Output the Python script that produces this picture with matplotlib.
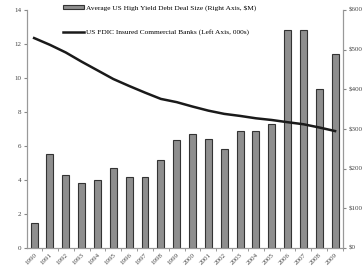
import matplotlib
matplotlib.use("Agg")
import matplotlib.pyplot as plt
import numpy as np
from matplotlib.patches import Patch
from matplotlib.lines import Line2D

years = [str(y) for y in range(1990, 2010)]
deal_size = [64, 238, 184, 165, 171, 201, 178, 178, 221, 272,
             287, 276, 249, 294, 296, 313, 549, 549, 402, 490]
banks = [12.35, 11.95, 11.5, 10.96, 10.45, 9.94, 9.53, 9.14, 8.77, 8.58,
         8.32, 8.08, 7.89, 7.77, 7.63, 7.53, 7.40, 7.28, 7.09, 6.88]
left_ticks = [0, 2, 4, 6, 8, 10, 12, 14]
right_ticks = [0, 100, 200, 300, 400, 500, 600]
right_labels = ["$0", "$100", "$200", "$300", "$400", "$500", "$600"]

plt.rcParams['font.family'] = ['Liberation Serif', 'DejaVu Serif']

W, H = 363, 272
fig = plt.figure(figsize=(W/100, H/100), dpi=100)
ax = fig.add_axes([27/W, 1 - 248/H, (343-27)/W, (248-10)/H])
ax2 = ax.twinx()

x = np.arange(len(years))
ax2.bar(x, deal_size, width=0.44, color='#8e8e8e', edgecolor='#333333', linewidth=0.8, zorder=2)
ax.plot(x, banks, color='#1a1a1a', linewidth=1.8, zorder=5)
ax.set_zorder(ax2.get_zorder() + 1)
ax.patch.set_visible(False)

ax.set_xlim(-0.45, 19.5)
ax.set_ylim(0, 14)
ax2.set_ylim(0, 600)
ax.set_yticks(left_ticks)
ax.set_yticklabels([str(t) for t in left_ticks])
ax2.set_yticks(right_ticks)
ax2.set_yticklabels(right_labels)

ax.set_xticks(x)
ax.set_xticklabels(years, rotation=45, ha='right', rotation_mode='anchor')
ax.set_xticks(x + 0.5, minor=True)
ax.tick_params(axis='x', which='major', length=0, labelsize=5, colors='#444444', pad=3)
ax.tick_params(axis='x', which='minor', length=2, color='#888888')
ax.tick_params(axis='y', labelsize=5, colors='#444444', length=2, color='#888888', pad=2)
ax2.tick_params(axis='y', labelsize=5, colors='#444444', length=2, color='#888888', pad=2)

for a in (ax, ax2):
    a.spines['top'].set_visible(False)
    for s in ('left', 'right', 'bottom'):
        a.spines[s].set_color('#999999')
        a.spines[s].set_linewidth(0.8)

handles = [Patch(facecolor='#8e8e8e', edgecolor='#333333', linewidth=0.8),
           Line2D([0], [0], color='#1a1a1a', linewidth=1.8)]
labels = ["Average US High Yield Debt Deal Size (Right Axis, $M)",
          "US FDIC Insured Commercial Banks (Left Axis, 000s)"]
fig.legend(handles, labels, loc='upper left', bbox_to_anchor=(60/W, 1 - 2/H),
           frameon=False, fontsize=5.3, handlelength=2.9, handleheight=0.5,
           labelspacing=2.5, handletextpad=0.3, borderaxespad=0)

fig.savefig("out.png", dpi=100)
